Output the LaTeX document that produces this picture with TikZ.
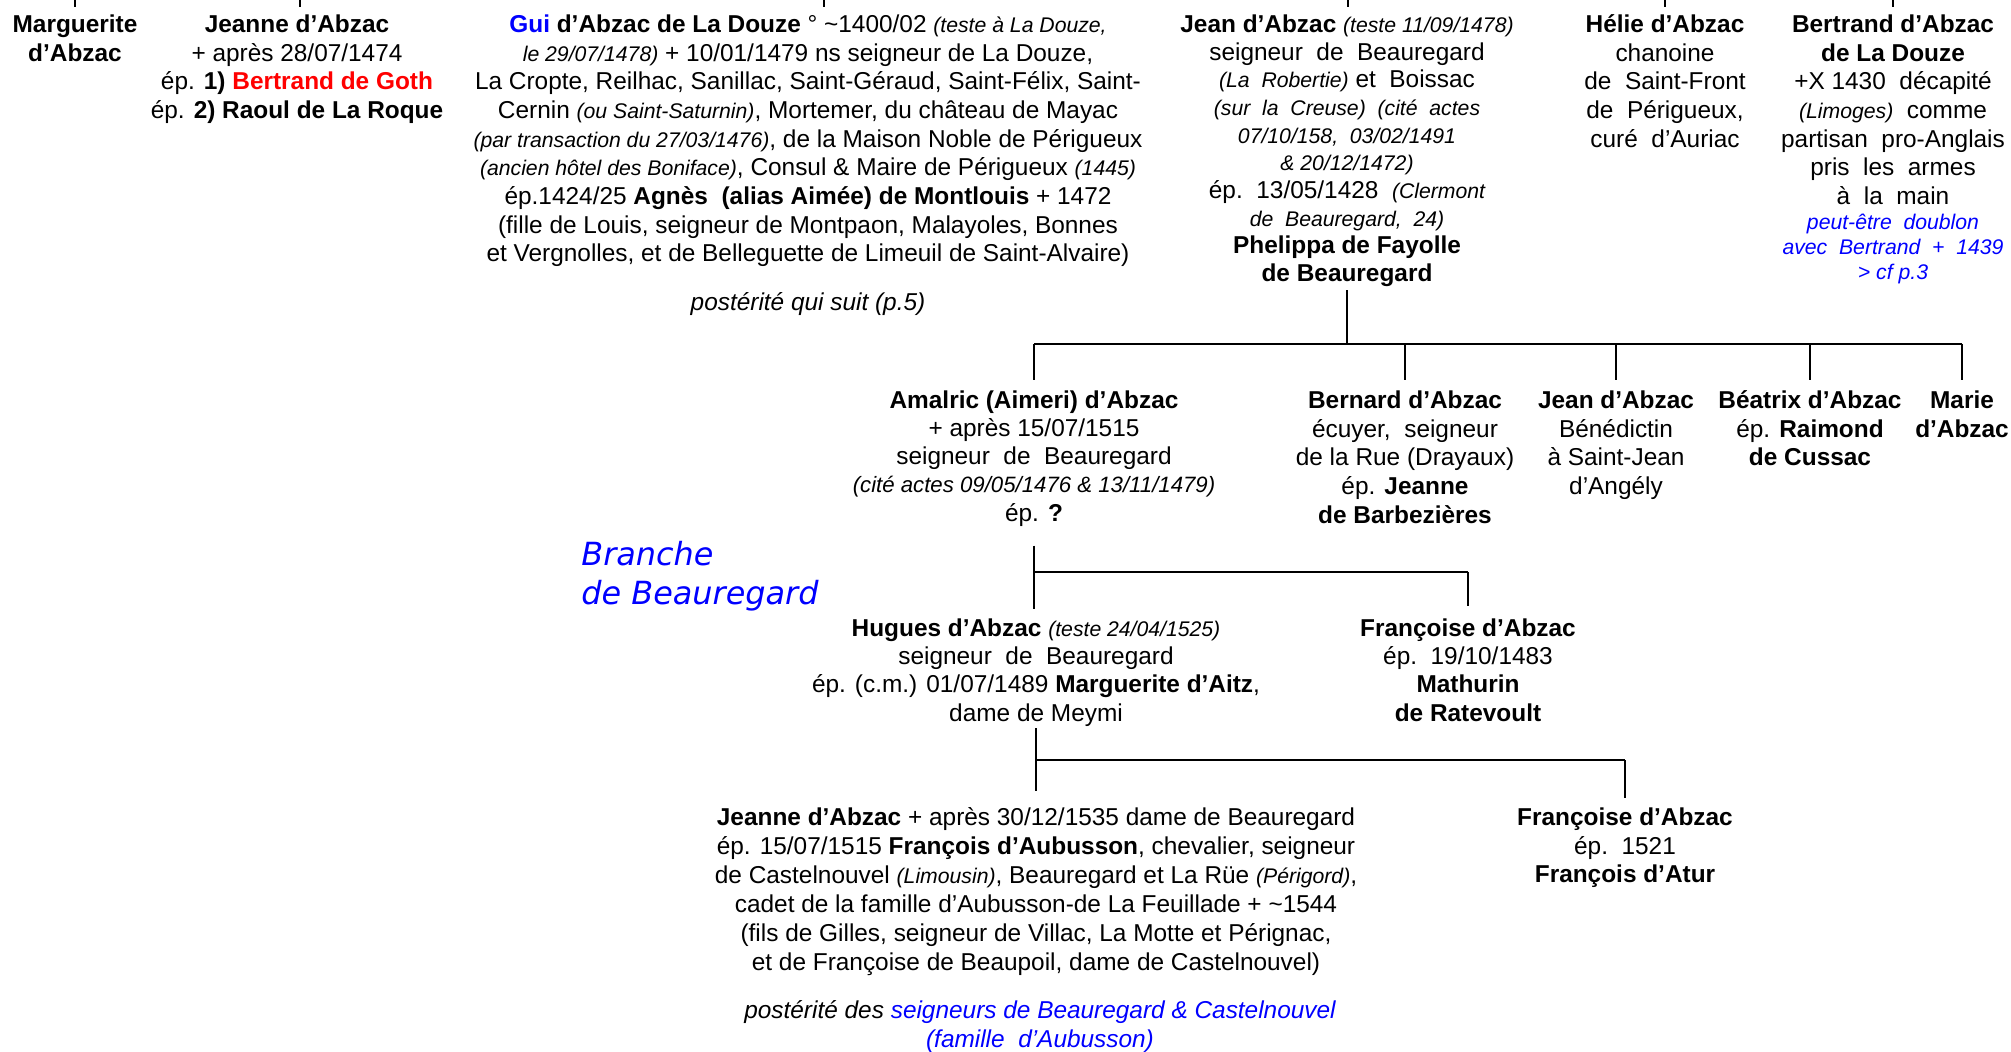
\documentclass[tikz,border=0pt]{standalone}
\usepackage{fontspec}
\setmainfont{Liberation Sans}
\newfontfamily\brfont{DejaVu Sans}
\definecolor{myblue}{RGB}{0,0,255}
\definecolor{myred}{RGB}{255,0,0}
\newcommand{\fl}{\rule{0pt}{10pt}}
\newcommand{\smit}[1]{{\fontsize{10.6}{12}\selectfont\itshape #1}}
\newcommand{\bl}[1]{\textcolor{myblue}{#1}}
\begin{document}
\begin{tikzpicture}[x=0.5pt,y=-0.5pt,
  person/.style={align=center, inner sep=0pt, anchor=north, font=\fontsize{12.2}{14.35}\selectfont},
  link/.style={line width=1.3pt}]
\fill[white] (0,0) rectangle (2011,1052);
\useasboundingbox (0,0) rectangle (2011,1052);

% ---- top row ----
\node[person] (marg) at (75,12) {\fl\textbf{Marguerite}\\\textbf{d’Abzac}};
\node[person] (jeanneA) at (297,12) {\fl\textbf{Jeanne d’Abzac}\\+ après 28/07/1474\\ép. \textbf{1)} \textcolor{myred}{\textbf{Bertrand de Goth}}\\ép. \textbf{2) Raoul de La Roque}};
\node[person] (gui) at (808,12) {\fl\bl{\textbf{Gui}} \textbf{d’Abzac de La Douze} ° \textasciitilde1400/02 \smit{(teste à La Douze,}\\%
\smit{le 29/07/1478)} + 10/01/1479 ns seigneur de La Douze,\\%
La Cropte, Reilhac, Sanillac, Saint-Géraud, Saint-Félix, Saint-\\%
Cernin \smit{(ou Saint-Saturnin)}, Mortemer, du château de Mayac\\%
\smit{(par transaction du 27/03/1476)}, de la Maison Noble de Périgueux\\%
\smit{(ancien hôtel des Boniface)}, Consul \& Maire de Périgueux \smit{(1445)}\\%
ép.1424/25 \textbf{Agnès\ \ (alias Aimée) de Montlouis} + 1472\\%
(fille de Louis, seigneur de Montpaon, Malayoles, Bonnes\\%
et Vergnolles, et de Belleguette de Limeuil de Saint-Alvaire)};
\node[person] (guipost) at (808,290) {\fl\itshape postérité qui suit (p.5)};
\node[person, font=\fontsize{12.2}{13.85}\selectfont] (jeanA) at (1347,12) {\fl\textbf{Jean d’Abzac} \smit{(teste 11/09/1478)}\\%
seigneur\ \ de\ \ Beauregard\\%
\smit{(La\ \ Robertie)} et\ \ Boissac\\%
\smit{(sur\ \ la\ \ Creuse)\ \ (cité\ \ actes}\\%
\smit{07/10/158,\ \ 03/02/1491}\\%
\smit{\&\ 20/12/1472)}\\%
ép.\ \ 13/05/1428\ \ \smit{(Clermont}\\%
\smit{de\ \ Beauregard,\ \ 24)}\\%
\textbf{Phelippa de Fayolle}\\%
\textbf{de Beauregard}};
\node[person] (helie) at (1665,12) {\fl\textbf{Hélie d’Abzac}\\chanoine\\de\ \ Saint-Front\\de\ \ Périgueux,\\curé\ \ d’Auriac};
\node[person] (bertrand) at (1893,12) {\fl\textbf{Bertrand d’Abzac}\\\textbf{de La Douze}\\+X\ 1430\ \ décapité\\\smit{(Limoges)}\ \ comme\\partisan\ \ pro-Anglais\\pris\ \ les\ \ armes\\à\ \ la\ \ main\\[-1.9pt]%
\smit{\bl{peut-être\ \ doublon}}\\[-1.9pt]%
\smit{\bl{avec\ \ Bertrand\ \ +\ \ 1439}}\\[-1.9pt]%
\smit{\bl{> cf p.3}}};

% ---- second row ----
\node[person, font=\fontsize{12.2}{14.1}\selectfont] (amalric) at (1034,388) {\fl\textbf{Amalric (Aimeri) d’Abzac}\\+ après 15/07/1515\\seigneur\ \ de\ \ Beauregard\\{\fontsize{11.1}{12}\selectfont\itshape (cité actes 09/05/1476 \& 13/11/1479)}\\ép. \textbf{?}};
\node[person] (bernard) at (1405,388) {\fl\textbf{Bernard d’Abzac}\\écuyer,\ \ seigneur\\de la Rue (Drayaux)\\ép. \textbf{Jeanne}\\\textbf{de Barbezières}};
\node[person] (jeanB) at (1616,388) {\fl\textbf{Jean d’Abzac}\\Bénédictin\\à Saint-Jean\\d’Angély};
\node[person] (beatrix) at (1810,388) {\fl\textbf{Béatrix d’Abzac}\\ép. \textbf{Raimond}\\\textbf{de Cussac}};
\node[person] (marie) at (1962,388) {\fl\textbf{Marie}\\\textbf{d’Abzac}};

\node[anchor=north west, inner sep=0pt, align=left, text=myblue, font=\brfont\itshape\fontsize{15.95}{19.25}\selectfont] (branche) at (581,541) {\rule{0pt}{12pt}Branche\\de Beauregard};

% ---- third row ----
\node[person, font=\fontsize{12.2}{14.1}\selectfont] (hugues) at (1036,616) {\fl\textbf{Hugues d’Abzac} \smit{(teste 24/04/1525)}\\seigneur\ \ de\ \ Beauregard\\ép. (c.m.) 01/07/1489 \textbf{Marguerite d’Aitz},\\dame de Meymi};
\node[person, font=\fontsize{12.2}{14.1}\selectfont] (francoiseA) at (1468,616) {\fl\textbf{Françoise d’Abzac}\\ép.\ \ 19/10/1483\\\textbf{Mathurin}\\\textbf{de Ratevoult}};

% ---- fourth row ----
\node[person, font=\fontsize{12.2}{14.5}\selectfont] (jeanneB) at (1036,805) {\fl\textbf{Jeanne d’Abzac} + après 30/12/1535 dame de Beauregard\\%
ép. 15/07/1515 \textbf{François d’Aubusson}, chevalier, seigneur\\%
de Castelnouvel \smit{(Limousin)}, Beauregard et La Rüe \smit{(Périgord)},\\%
cadet de la famille d’Aubusson-de La Feuillade + \textasciitilde1544\\%
(fils de Gilles, seigneur de Villac, La Motte et Pérignac,\\%
et de Françoise de Beaupoil, dame de Castelnouvel)};
\node[person, font=\fontsize{12.2}{14.5}\selectfont\itshape] (jeannepost) at (1040,998) {\fl postérité des \bl{seigneurs de Beauregard \& Castelnouvel}\\\bl{(famille\ \ d’Aubusson)}};
\node[person] (francoiseB) at (1625,805) {\fl\textbf{Françoise d’Abzac}\\ép.\ \ 1521\\\textbf{François d’Atur}};

% ---- connectors ----
\foreach \x in {75,300,824,1348,1665,1893} \draw[link] (\x,0) -- (\x,7);

\coordinate (busA) at (1348,344);
\draw[link, shorten <=1.5pt] (jeanA.south) -- (jeanA.south |- busA);
\draw[link] (amalric.north |- busA) -- (marie.north |- busA);
\foreach \c in {amalric,bernard,jeanB,beatrix,marie}
  \draw[link, shorten >=4pt] (\c.north |- busA) -- (\c.north);

\coordinate (busB) at (1034,572);
\draw[link, shorten <=9.5pt, shorten >=3.5pt] (amalric.south) -- (amalric.south |- hugues.north);
\draw[link] (amalric.south |- busB) -- (francoiseA.north |- busB);
\draw[link, shorten >=5pt] (francoiseA.north |- busB) -- (francoiseA.north);

\coordinate (busC) at (1036,760);
\draw[link, shorten <=1pt, shorten >=7pt] (hugues.south) -- (hugues.south |- jeanneB.north);
\draw[link] (hugues.south |- busC) -- (francoiseB.north |- busC);
\draw[link, shorten >=3.5pt] (francoiseB.north |- busC) -- (francoiseB.north);
\end{tikzpicture}
\end{document}
